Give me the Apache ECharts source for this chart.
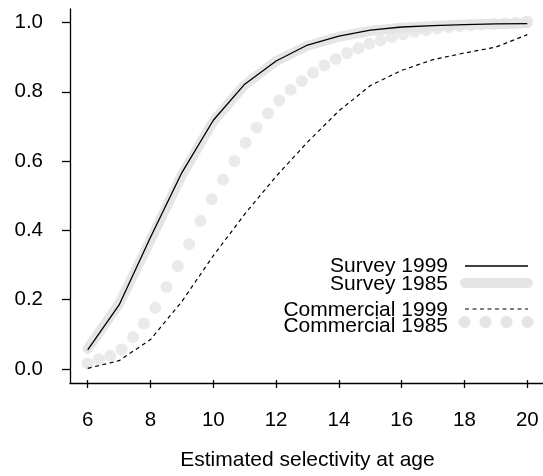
<!DOCTYPE html>
<html>
<head>
<meta charset="utf-8">
<script src="https://cdn.jsdelivr.net/npm/echarts@6/dist/echarts.min.js"></script>
<style>
  html, body { margin: 0; padding: 0; background: #fff; }
  #chart { width: 543px; height: 476px; }
</style>
</head>
<body>
<div id="chart"></div>
<script>
// ages for the survey / commercial 1999 curves
const ages = [6, 7, 8, 9, 10, 11, 12, 13, 14, 15, 16, 17, 18, 19, 20];
const survey1999 = [0.055, 0.185, 0.38, 0.567, 0.718, 0.822, 0.889, 0.935, 0.961, 0.978, 0.987, 0.991, 0.994, 0.996, 0.997];
const survey1985 = [0.058, 0.188, 0.372, 0.56, 0.715, 0.82, 0.889, 0.933, 0.959, 0.976, 0.985, 0.99, 0.994, 0.996, 0.998];
const commercial1999 = [0.002, 0.024, 0.085, 0.195, 0.327, 0.447, 0.556, 0.655, 0.745, 0.818, 0.862, 0.893, 0.912, 0.929, 0.965];

// commercial 1985 is drawn as big grey dots on a finer age grid
const commAges = [6.00, 6.36, 6.72, 7.08, 7.44, 7.79, 8.15, 8.51, 8.87, 9.23,
  9.59, 9.95, 10.31, 10.67, 11.03, 11.38, 11.74, 12.10, 12.46, 12.82,
  13.18, 13.54, 13.90, 14.26, 14.62, 14.97, 15.33, 15.69, 16.05, 16.41,
  16.77, 17.13, 17.49, 17.85, 18.21, 18.56, 18.92, 19.28, 19.64, 20.00];
const commercial1985 = [0.016, 0.028, 0.038, 0.056, 0.092, 0.131, 0.177, 0.237, 0.297, 0.360,
  0.427, 0.490, 0.547, 0.600, 0.653, 0.697, 0.738, 0.775, 0.806, 0.831,
  0.855, 0.876, 0.895, 0.912, 0.926, 0.939, 0.949, 0.958, 0.966, 0.973,
  0.978, 0.983, 0.987, 0.990, 0.992, 0.994, 0.996, 0.998, 0.999, 1.003];

const yTicks = [0, 0.2, 0.4, 0.6, 0.8, 1.0];
const seriesNames = ["Survey 1999", "Survey 1985", "Commercial 1999", "Commercial 1985"];
const xName = "Estimated selectivity at age";

const FONT = '"Liberation Sans", Arial, Helvetica, sans-serif';
const GREY = "#e5e5e5";

const pair = (xs, ys) => xs.map((x, i) => [x, ys[i]]);

const chart = echarts.init(document.getElementById("chart"));

// legend drawn by hand: text right aligned, key to the right of it
const legendText = (name, y) => ({
  type: "text",
  style: {
    text: name, x: 448, y: y, fill: "#000",
    font: "21px " + FONT, textAlign: "right", textVerticalAlign: "middle",
  },
});

const option = {
  backgroundColor: "#fff",
  animation: false,
  // grid 0 holds the data and the long L-shaped axis lines,
  // grid 1 spans exactly 6..20 and only carries the x ticks/labels
  grid: [
    { left: 70, right: 0, top: 9, bottom: 93, containLabel: false },
    { left: 87.7, right: 15.7, top: 9, bottom: 93, containLabel: false },
  ],
  xAxis: [
    {
      type: "value",
      gridIndex: 0,
      min: 5.436,
      max: 20.5,
      axisLine: { show: true, onZero: false, lineStyle: { color: "#000", width: 1.3 } },
      axisTick: { show: false },
      axisLabel: { show: false },
      splitLine: { show: false },
    },
    {
      type: "value",
      gridIndex: 1,
      min: 6,
      max: 20,
      interval: 2,
      name: xName,
      nameLocation: "middle",
      nameGap: 70,
      nameTextStyle: { fontSize: 21, color: "#000", fontFamily: FONT },
      axisLine: { show: false, onZero: false },
      axisTick: { show: true, length: 8, lineStyle: { color: "#000", width: 1.3 } },
      axisLabel: { margin: 30, fontSize: 20.5, color: "#000", fontFamily: FONT },
      splitLine: { show: false },
    },
  ],
  yAxis: [
    {
      type: "value",
      gridIndex: 0,
      min: -0.0404,
      max: 1.039,
      axisLine: { show: true, onZero: false, lineStyle: { color: "#000", width: 1.3 } },
      axisTick: { show: true, length: 8, customValues: yTicks, lineStyle: { color: "#000", width: 1.3 } },
      axisLabel: {
        customValues: yTicks, margin: 27, fontSize: 20.5, color: "#000", fontFamily: FONT,
        formatter: (v) => v.toFixed(1),
      },
      splitLine: { show: false },
    },
    { type: "value", gridIndex: 1, show: false, min: -0.0404, max: 1.039 },
  ],
  series: [
    {
      name: seriesNames[1],
      type: "line",
      data: pair(ages, survey1985),
      showSymbol: false,
      lineStyle: { color: GREY, width: 10, cap: "round", join: "round" },
      z: 1,
    },
    {
      name: seriesNames[3],
      type: "scatter",
      data: pair(commAges, commercial1985),
      symbolSize: 12,
      itemStyle: { color: GREY },
      z: 2,
    },
    {
      name: seriesNames[0],
      type: "line",
      data: pair(ages, survey1999),
      showSymbol: false,
      lineStyle: { color: "#000", width: 1.3 },
      z: 3,
    },
    {
      name: seriesNames[2],
      type: "line",
      data: pair(ages, commercial1999),
      showSymbol: false,
      lineStyle: { color: "#000", width: 1.2, type: [4, 3.5] },
      z: 3,
    },
  ],
  graphic: [
    legendText(seriesNames[0], 266),
    legendText(seriesNames[1], 284),
    legendText(seriesNames[2], 310),
    legendText(seriesNames[3], 326),
    { type: "line", shape: { x1: 465, y1: 266, x2: 528, y2: 266 }, style: { stroke: "#000", lineWidth: 1.3 } },
    { type: "line", shape: { x1: 465, y1: 283, x2: 528, y2: 283 }, style: { stroke: GREY, lineWidth: 10, lineCap: "round" } },
    { type: "line", shape: { x1: 465, y1: 309, x2: 528, y2: 309 }, style: { stroke: "#000", lineWidth: 1.2, lineDash: [4, 3.5] } },
    { type: "circle", shape: { cx: 464.5, cy: 322, r: 6 }, style: { fill: GREY } },
    { type: "circle", shape: { cx: 485.5, cy: 322, r: 6 }, style: { fill: GREY } },
    { type: "circle", shape: { cx: 506.5, cy: 322, r: 6 }, style: { fill: GREY } },
    { type: "circle", shape: { cx: 527.5, cy: 322, r: 6 }, style: { fill: GREY } },
  ],
};

option && chart.setOption(option);
</script>
</body>
</html>
